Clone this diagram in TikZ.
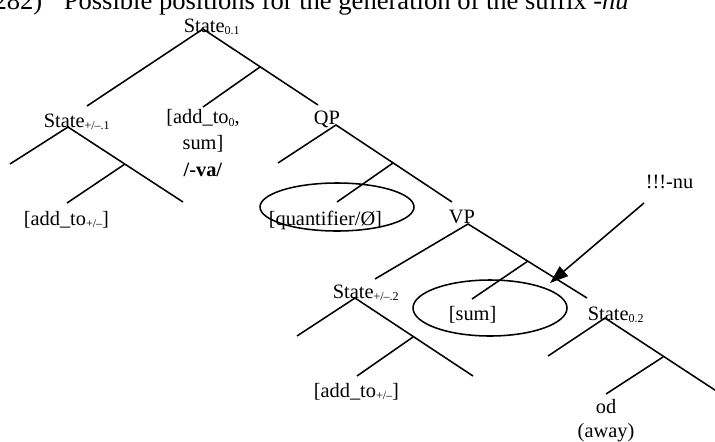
\documentclass[tikz,border=0pt]{standalone}
\usepackage{fontspec}
\setmainfont{Liberation Serif}
\usetikzlibrary{arrows.meta}
\newcommand{\lowtext}[1]{\raisebox{-0.3ex}{\fontsize{8.5}{10}\selectfont #1}}

\begin{document}
\begin{tikzpicture}[x=0.025cm, y=-0.025cm, line width=1.1pt,
    lbl/.style={anchor=base west, inner sep=0pt, font=\fontsize{14.5}{18.5}\selectfont},
    heading/.style={inner sep=0pt, font=\fontsize{18.9}{21}\selectfont}]
    \useasboundingbox (0,0) rectangle (715,441);
    \clip (0,0) rectangle (715,441);

    % heading, cut off at the top
    \node[heading, anchor=base east] (num) at (43,9) {(282)};
    \node[heading, anchor=base west] (title) at (63,9) {Possible positions for the generation of the suffix \textit{-nu}};

    % State 0.1
    \coordinate (S1) at (203,29);
    \coordinate (S1l) at (87,106);
    \coordinate (S1r) at (318,105);
    \coordinate (S1j) at (260,67);
    \coordinate (S1m) at (203,107);
    \draw (S1l) -- (S1) -- (S1r);
    \draw (S1j) -- (S1m);
    \node[lbl] (state01) at (183,32) {State\lowtext{0.1}};

    % State +/-.1
    \coordinate (A) at (68,127);
    \coordinate (Al) at (10,164);
    \coordinate (Ar) at (183,202);
    \coordinate (Aj) at (125,164);
    \coordinate (Am) at (67,203);
    \draw (Al) -- (A) -- (Ar);
    \draw (Aj) -- (Am);
    \node[lbl] (statepm1) at (43,127) {State\lowtext{+/--.1}};
    \node[lbl] (addto1) at (23,225) {[add\_to\lowtext{+/--}]};

    % base of a multi-line node = its last line
    \node[lbl, anchor=base, align=center] (addsum) at (203,176)
        {[add\_to\lowtext{0},\\ sum]\\ \textbf{/-va/}};

    % QP
    \coordinate (Q) at (336,125);
    \coordinate (Ql) at (278,163);
    \coordinate (Qr) at (452,202);
    \coordinate (Qj) at (393,163);
    \coordinate (Qm) at (337,202);
    \draw (Ql) -- (Q) -- (Qr);
    \draw (Qj) -- (Qm);
    \node[lbl] (qp) at (313,124) {QP};
    \node[lbl] (quant) at (268,225) {[quantifier/Ø]};
    \draw (337,207) ellipse [x radius=77, y radius=24];

    % VP
    \coordinate (V) at (468,224);
    \coordinate (Vl) at (375,279);
    \coordinate (Vr) at (587,298);
    \coordinate (Vj) at (528,261);
    \coordinate (Vm) at (472,299);
    \draw (Vl) -- (V) -- (Vr);
    \draw (Vj) -- (Vm);
    \node[lbl] (vp) at (448,223) {VP};
    \node[lbl] (sum) at (448,320) {[sum]};
    \draw (490,308) ellipse [x radius=77, y radius=28];

    % State +/-.2
    \coordinate (B) at (355,298);
    \coordinate (Bl) at (297,336);
    \coordinate (Br) at (473,376);
    \coordinate (Bj) at (413,337);
    \coordinate (Bm) at (357,376);
    \draw (Bl) -- (B) -- (Br);
    \draw (Bj) -- (Bm);
    \node[lbl] (statepm2) at (332,298) {State\lowtext{+/--.2}};
    \node[lbl] (addto2) at (313,397) {[add\_to\lowtext{+/--}]};

    % State 0.2
    \coordinate (S2) at (605,318);
    \coordinate (S2l) at (548,356);
    \coordinate (S2r) at (724,396);
    \coordinate (S2j) at (663,357);
    \coordinate (S2m) at (606,394);
    \draw (S2l) -- (S2) -- (S2r);
    \draw (S2j) -- (S2m);
    \node[lbl] (state02) at (587,320) {State\lowtext{0.2}};
    \node[lbl, anchor=base, align=center, font=\fontsize{14.5}{16.4}\selectfont] (od) at (606,437) {od\\ (away)};

    % the arrow for -nu
    \node[lbl] (nu) at (645,188) {!!!-nu};
    \coordinate (nutail) at (644,203);
    \coordinate (nutip) at (550,283);
    \draw[-{Triangle[length=13pt,width=9pt]}] (nutail) -- (nutip);
\end{tikzpicture}
\end{document}
